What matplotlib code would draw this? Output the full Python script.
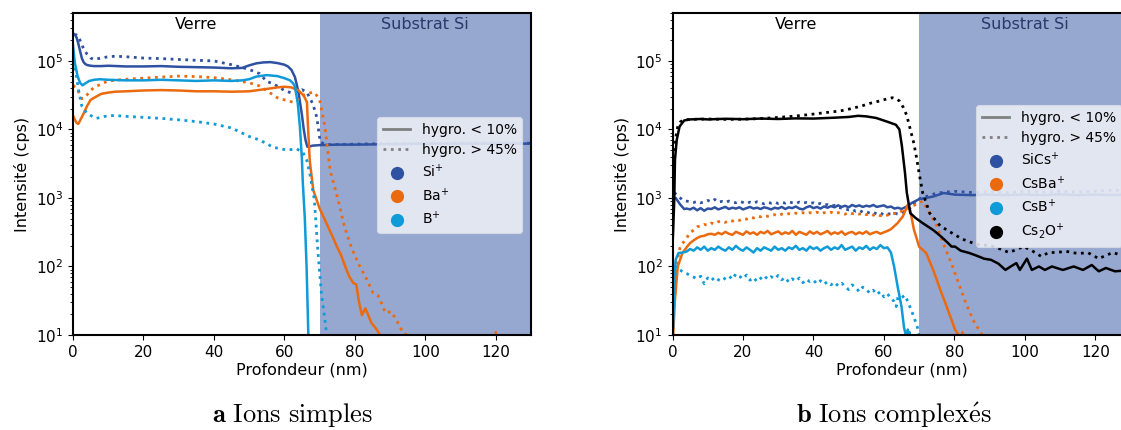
import matplotlib
matplotlib.use('Agg')
import matplotlib.pyplot as plt
from matplotlib.lines import Line2D

plt.rcParams.update({
    'font.family': 'DejaVu Sans',
    'font.size': 11,
    'axes.labelsize': 11.5,
    'xtick.labelsize': 11,
    'ytick.labelsize': 11,
    'legend.fontsize': 10,
    'axes.linewidth': 1.5,
})

# ---- colours ----
c_si = '#2F51A2'
c_ba = '#EC6A0E'
c_b = '#0F9AD8'
c_cs2o = '#000000'
c_sub = '#97A8D0'

# ---- panel a : ions simples ----
si_lo_x = [0, 0.5, 1, 1.5, 2, 2.5, 3, 3.5, 4, 5, 6, 8, 10, 15, 20, 25, 30, 35, 40, 45, 48, 50, 52, 54, 56, 58, 60,
           61, 62, 63, 64, 65, 65.5, 66, 66.5, 67, 68, 70, 75, 80, 90, 100, 110, 120, 130]
si_lo_y = [2.5e5, 2.45e5, 2.2e5, 1.8e5, 1.4e5, 1.1e5, 9.6e4, 9.0e4, 8.7e4, 8.5e4, 8.4e4, 8.4e4, 8.5e4, 8.3e4, 8.3e4,
           8.4e4, 8.2e4, 8.1e4, 8.0e4, 7.8e4, 7.9e4, 8.6e4, 9.2e4, 9.5e4, 9.6e4, 9.3e4, 8.8e4, 8.3e4, 7.4e4, 5.8e4,
           3.5e4, 1.6e4, 1.0e4, 7.0e3, 5.6e3, 5.6e3, 5.8e3, 5.9e3, 6.0e3, 6.0e3, 6.1e3, 6.2e3, 6.2e3, 6.2e3, 6.2e3]
si_hi_x = [0.5, 1, 1.5, 2, 3, 4, 5, 6, 8, 10, 12, 15, 20, 25, 30, 35, 40, 45, 48, 50, 53, 55, 57, 60, 62, 64, 65,
           66.4, 67, 68, 68.5, 69.2, 69.8, 70.2, 72, 80, 90, 100, 110, 120, 130]
si_hi_y = [2.3e5, 2.4e5, 2.3e5, 2.0e5, 1.5e5, 1.25e5, 1.1e5, 1.05e5, 1.1e5, 1.15e5, 1.17e5, 1.15e5, 1.1e5, 1.08e5,
           1.05e5, 1.02e5, 1.0e5, 8.8e4, 8.0e4, 7.5e4, 6.5e4, 5.0e4, 4.6e4, 3.7e4, 3.4e4, 3.6e4, 3.8e4, 3.5e4,
           3.0e4, 2.4e4, 2.0e4, 1.5e4, 9e3, 6.5e3, 6.0e3, 6.1e3, 6.2e3, 6.2e3, 6.3e3, 6.3e3, 6.3e3]

ba_lo_x = [0, 0.5, 1, 1.5, 2, 3, 4, 5, 6, 8, 10, 12, 15, 20, 25, 30, 35, 40, 45, 50, 55, 58, 60, 62, 64, 65, 65.5,
           66.4, 66.7, 67.2, 68.2, 70, 72, 74, 75, 76, 77.6, 78.5, 79.6, 80.4, 81.2, 82, 83, 84.7, 86.2, 87.2, 88,
           100, 119.6, 120, 120.4, 130]
ba_lo_y = [1.6e4, 1.4e4, 1.25e4, 1.2e4, 1.35e4, 1.7e4, 2.2e4, 2.7e4, 2.9e4, 3.3e4, 3.45e4, 3.55e4, 3.6e4, 3.7e4,
           3.75e4, 3.7e4, 3.6e4, 3.6e4, 3.55e4, 3.6e4, 3.9e4, 4.1e4, 4.2e4, 4.1e4, 3.7e4, 3.3e4, 3.1e4, 2.5e4,
           1.1e4, 3.5e3, 1.3e3, 7e2, 4.2e2, 2.5e2, 1.9e2, 1.5e2, 9e1, 7e1, 5.7e1, 5.5e1, 3e1, 1.95e1, 2.45e1,
           1.5e1, 1.2e1, 1e1, 8, 5, 5, 11, 5, 5]
ba_hi_x = [0, 1, 2, 2.5, 3, 4, 5, 6, 8, 10, 15, 20, 25, 30, 35, 40, 45, 50, 53, 56, 58, 60, 62.4, 64, 65, 66.4, 68,
           68.7, 70, 70.5, 71.5, 72.4, 73, 75, 77, 79, 81, 83, 85.2, 86.7, 88.7, 90.3, 91.8, 93.8, 95, 96]
ba_hi_y = [4.4e4, 4.0e4, 3.2e4, 2.8e4, 2.9e4, 3.2e4, 3.7e4, 4.1e4, 4.6e4, 5.1e4, 5.4e4, 5.6e4, 5.8e4, 6.0e4, 5.9e4,
           5.7e4, 5.3e4, 4.8e4, 4.3e4, 3.4e4, 2.9e4, 2.7e4, 2.5e4, 2.8e4, 3.1e4, 3.3e4, 3.5e4, 3.4e4, 2.7e4,
           2.0e4, 1.1e4, 4.5e3, 2.5e3, 1.05e3, 3.9e2, 1.9e2, 1.1e2, 7.1e1, 4.1e1, 3.7e1, 2.1e1, 2.2e1, 1.65e1,
           1.05e1, 1e1, 8]

b_lo_x = [0, 0.5, 1.3, 2, 2.7, 3.5, 4.6, 6, 7.6, 10, 15, 20, 25, 30, 35, 40, 45, 48, 50, 52, 55, 58, 60, 61.6, 62.5,
          63, 63.8, 64.4, 65, 65.2, 65.8, 66.3, 66.8, 67.2]
b_lo_y = [1.7e5, 9.5e4, 6.0e4, 4.8e4, 4.4e4, 4.7e4, 5.1e4, 5.3e4, 5.4e4, 5.3e4, 5.2e4, 5.2e4, 5.3e4, 5.2e4, 5.1e4,
          5.2e4, 5.1e4, 5.2e4, 5.4e4, 5.9e4, 6.2e4, 6.0e4, 5.6e4, 5.2e4, 4.7e4, 4.2e4, 2.4e4, 1.1e4, 3.5e3, 1.8e3,
          5e2, 1e2, 1e1, 5]
b_hi_x = [0, 0.7, 1.5, 2.5, 4, 6.6, 9, 11.7, 15, 20, 25, 30, 35, 40, 45, 50, 53, 56.8, 60.7, 63.5, 65.3, 66.4, 67.2,
          68.5, 69.5, 70.5, 71.5, 72, 72.5]
b_hi_y = [1.3e5, 7.6e4, 3.9e4, 2.2e4, 1.7e4, 1.45e4, 1.55e4, 1.6e4, 1.55e4, 1.5e4, 1.45e4, 1.38e4, 1.3e4, 1.2e4,
          1.05e4, 7.9e3, 7.0e3, 5.5e3, 5.0e3, 5.2e3, 4.6e3, 3.5e3, 2.3e3, 9.5e2, 1.7e2, 4.1e1, 1.66e1, 1e1, 7]

# ---- panel b : ions complexes ----
plateau_x = [4, 5, 6, 7, 8, 9, 10, 11, 12, 13, 14, 15, 16, 17, 18, 19, 20, 21, 22, 23, 24, 25, 26, 27, 28, 29, 30,
             31, 32, 33, 34, 35, 36, 37, 38, 39, 40, 41, 42, 43, 44, 45, 46, 47, 48, 49, 50, 51, 52, 53, 54, 55, 56,
             57, 58, 59, 60, 61, 62]

cs2o_lo_x = [0, 0.2, 0.5, 0.7, 1.2, 2, 3.3, 5, 8, 10, 15, 20, 25, 30, 35, 40, 45.6, 50, 52.7, 55, 57.8, 60.9, 63.4,
             64.4, 65.1, 66, 66.5, 67.5, 69, 71, 74, 76, 78.2, 79.2, 80.2, 81.8, 84.3, 86.9, 88.4, 90.4, 92.5, 94.5,
             96, 97.6, 98.6, 100.6, 102, 104, 105.7, 107.7, 110.8, 113.9, 116.5, 119, 121, 123, 125.6, 128, 130]
cs2o_lo_y = [2e2, 3.5e2, 9.5e2, 3.6e3, 7e3, 1.1e4, 1.35e4, 1.4e4, 1.42e4, 1.4e4, 1.43e4, 1.41e4, 1.44e4, 1.42e4,
             1.45e4, 1.44e4, 1.48e4, 1.52e4, 1.58e4, 1.55e4, 1.47e4, 1.3e4, 1.17e4, 1.0e4, 5.8e3, 2.3e3, 1.2e3, 6e2,
             5.1e2, 4.3e2, 3.4e2, 2.8e2, 2.2e2, 1.95e2, 1.95e2, 1.7e2, 1.57e2, 1.4e2, 1.3e2, 1.25e2, 1.1e2, 8.9e1,
             1.0e2, 1.12e2, 8.9e1, 1.3e2, 8.9e1, 1.0e2, 8.9e1, 1.0e2, 8.9e1, 1.0e2, 8.9e1, 1.05e2, 8.5e1, 9.5e1,
             8.5e1, 8.7e1, 9e1]
cs2o_hi_x = [0, 0.3, 0.6, 1, 1.5, 2.3, 3.5, 5, 10, 15, 20, 25, 30.3, 35, 39.4, 43, 47.6, 50.5, 53.7, 56, 58.8, 61,
             62.4, 63.5, 64.4, 65.5, 66.5, 67.5, 68.5, 69.3, 70, 71, 73, 76, 79.2, 82.3, 86.3, 90.4, 93, 95.5, 97.5,
             99.6, 101.6, 104.7, 106.8, 108.8, 111.8, 114.9, 118, 121, 123, 125, 126.6]
cs2o_hi_y = [1.1e3, 2.5e3, 5e3, 8e3, 1.1e4, 1.3e4, 1.38e4, 1.4e4, 1.42e4, 1.4e4, 1.41e4, 1.44e4, 1.5e4, 1.57e4,
             1.66e4, 1.75e4, 1.86e4, 2.0e4, 2.2e4, 2.4e4, 2.6e4, 2.8e4, 2.9e4, 2.8e4, 2.6e4, 2.1e4, 1.6e4, 1.0e4,
             6.3e3, 3.8e3, 2.3e3, 1.2e3, 6e2, 3.9e2, 3.1e2, 2.5e2, 2.1e2, 2.0e2, 1.8e2, 1.6e2, 1.75e2, 1.95e2,
             1.75e2, 1.4e2, 1.6e2, 1.6e2, 1.66e2, 1.55e2, 1.58e2, 1.3e2, 1.45e2, 1.6e2, 1.5e2]

sics_lo_x = [0.2, 0.9, 2.2, 3.3] + plateau_x + [63, 64, 65, 66.5, 68, 70, 72, 74, 77, 80, 85, 90, 95, 100, 105,
                                                 110, 115, 120, 125, 130]
sics_lo_y = [9.6e2, 1.0e3, 8.0e2, 6.9e2,
             7.0e2, 6.8e2, 7.2e2, 6.6e2, 7.1e2, 6.5e2, 7.0e2, 6.9e2, 7.3e2, 6.8e2, 7.1e2, 7.4e2, 6.9e2, 7.2e2,
             7.0e2, 7.3e2, 6.8e2, 7.1e2, 7.4e2, 7.0e2, 7.2e2, 6.9e2, 7.3e2, 7.1e2, 6.8e2, 7.2e2, 7.0e2, 7.4e2,
             6.9e2, 7.3e2, 7.1e2, 7.5e2, 7.0e2, 6.8e2, 7.3e2, 7.6e2, 7.1e2, 7.4e2, 7.0e2, 7.5e2, 7.2e2, 7.6e2,
             7.3e2, 7.8e2, 7.4e2, 7.7e2, 7.3e2, 7.9e2, 7.5e2, 7.8e2, 7.4e2, 7.7e2, 7.5e2, 7.9e2, 7.4e2, 7.6e2,
             7.8e2, 7.3e2, 7.5e2,
             7.0e2, 7.2e2, 6.9e2, 7.5e2, 8.5e2, 9.6e2, 1.0e3, 1.05e3, 1.18e3, 1.12e3, 1.1e3, 1.12e3, 1.1e3,
             1.12e3, 1.1e3, 1.13e3, 1.1e3, 1.12e3, 1.1e3, 1.12e3]
sics_hi_x = [0.5, 1.7, 3] + plateau_x + [63, 64, 65, 66, 67.5, 69.5, 72, 75, 80, 85, 90, 95, 100, 105, 110, 115,
                                          120, 125, 130]
sics_hi_y = [1.2e3, 1.05e3, 9.2e2,
             9.0e2, 8.8e2, 8.6e2, 8.9e2, 8.5e2, 8.7e2, 9.2e2, 8.8e2, 9.5e2, 8.7e2, 8.9e2, 8.6e2, 9.0e2, 8.7e2,
             8.5e2, 8.9e2, 8.6e2, 8.3e2, 8.7e2, 8.4e2, 8.8e2, 8.5e2, 8.2e2, 8.6e2, 8.4e2, 8.7e2, 8.3e2, 8.6e2,
             8.4e2, 8.8e2, 8.5e2, 8.3e2, 8.7e2, 8.4e2, 8.6e2, 8.3e2, 8.5e2, 8.1e2, 8.3e2, 7.9e2, 8.0e2, 7.6e2,
             7.8e2, 7.3e2, 7.1e2, 6.9e2, 6.7e2, 6.8e2, 6.4e2, 6.6e2, 6.2e2, 6.3e2, 6.0e2, 6.2e2, 5.8e2, 6.0e2,
             5.7e2, 5.9e2, 5.8e2,
             6.0e2, 5.8e2, 6.1e2, 6.4e2, 7.1e2, 9.5e2, 1.05e3, 1.18e3, 1.25e3, 1.2e3, 1.24e3, 1.2e3, 1.25e3,
             1.22e3, 1.25e3, 1.22e3, 1.26e3, 1.3e3, 1.27e3]

csba_lo_x = [0.2, 0.7, 1.5, 2.8] + plateau_x + [63.9, 65.4, 66.8, 67.5, 68.5, 70, 72, 74, 76, 78.2, 80.2, 81.2,
                                                 81.8, 82.3, 82.8]
csba_lo_y = [10, 33, 1e2, 1.57e2,
             1.9e2, 2.2e2, 2.4e2, 2.6e2, 2.75e2, 2.8e2, 2.95e2, 3.0e2, 2.9e2, 3.1e2, 2.95e2, 3.2e2, 3.0e2, 2.9e2,
             3.2e2, 3.05e2, 2.9e2, 3.25e2, 3.0e2, 3.15e2, 2.9e2, 3.2e2, 3.05e2, 3.3e2, 2.95e2, 3.1e2, 3.25e2,
             2.95e2, 3.15e2, 3.0e2, 3.3e2, 2.9e2, 3.2e2, 3.05e2, 2.9e2, 3.25e2, 3.0e2, 3.2e2, 2.95e2, 3.1e2,
             3.3e2, 2.95e2, 3.15e2, 3.0e2, 3.25e2, 2.9e2, 3.1e2, 3.2e2, 2.95e2, 3.15e2, 3.0e2, 3.25e2, 2.95e2,
             3.1e2, 3.2e2, 3.0e2, 3.15e2, 3.3e2, 3.5e2,
             4.3e2, 5.4e2, 8e2, 6.5e2, 3.5e2, 1.95e2, 1.57e2, 8.9e1, 4.6e1, 2.3e1, 1.2e1, 1e1, 8, 11, 8]
csba_hi_x = [0.7, 1, 2.2] + plateau_x + [63.9, 66.5, 69, 71, 73, 75, 77.2, 79.2, 81.2, 83.3, 85.3, 87.4, 87.9,
                                          88.5]
csba_hi_y = [4e1, 1e2, 1.95e2,
             2.6e2, 3.1e2, 3.4e2, 3.8e2, 3.9e2, 4.1e2, 4.0e2, 4.3e2, 4.2e2, 4.5e2, 4.6e2, 4.4e2, 4.7e2, 4.6e2,
             4.8e2, 4.7e2, 5.0e2, 4.9e2, 5.2e2, 5.1e2, 5.4e2, 5.3e2, 5.5e2, 5.4e2, 5.6e2, 5.7e2, 5.5e2, 5.8e2,
             5.7e2, 5.9e2, 5.8e2, 6.0e2, 5.9e2, 6.1e2, 5.9e2, 6.1e2, 6.0e2, 6.2e2, 5.9e2, 6.1e2, 6.0e2, 6.2e2,
             5.9e2, 6.1e2, 6.0e2, 5.8e2, 6.1e2, 5.9e2, 6.0e2, 5.8e2, 6.0e2, 5.7e2, 5.9e2, 5.6e2, 5.8e2, 5.5e2,
             5.7e2, 5.6e2, 5.9e2,
             6.0e2, 7e2, 8e2, 9e2, 6e2, 3.9e2, 1.95e2, 1.1e2, 5.7e1, 2.9e1, 1.66e1, 1.1e1, 1e1, 7]

csb_lo_x = [0.2, 0.5, 0.9, 1.7, 3] + plateau_x + [62.9, 63.9, 65, 65.7, 66.2, 66.5, 66.8, 67.1, 67.3, 67.5]
csb_lo_y = [13, 57, 1.26e2, 1.57e2, 1.6e2,
            1.65e2, 1.8e2, 1.7e2, 1.9e2, 1.75e2, 1.95e2, 1.7e2, 1.85e2, 1.75e2, 1.95e2, 1.8e2, 1.7e2, 1.9e2,
            1.75e2, 2.0e2, 1.8e2, 1.7e2, 1.9e2, 1.75e2, 1.6e2, 1.85e2, 1.7e2, 1.9e2, 1.8e2, 1.7e2, 1.95e2,
            1.75e2, 1.85e2, 1.7e2, 1.9e2, 1.8e2, 2.0e2, 1.75e2, 1.85e2, 1.7e2, 1.95e2, 1.8e2, 1.9e2, 1.7e2,
            1.85e2, 1.95e2, 1.75e2, 1.9e2, 1.8e2, 2.05e2, 1.75e2, 1.85e2, 1.95e2, 1.7e2, 1.9e2, 1.8e2, 2.0e2,
            1.75e2, 1.9e2, 1.8e2, 2.05e2, 1.85e2, 1.9e2, 1.6e2,
            1.0e2, 5.1e1, 2.6e1, 1.3e1, 1e1, 7, 12, 7, 11, 5]
csb_hi_x = [0.5, 0.9, 2.2, 3] + plateau_x + [62.9, 63.5, 64, 65, 66, 67, 68.5, 69.5, 70, 70.5]
csb_hi_y = [4.5e1, 1e2, 8.9e1, 8.2e1,
            7.9e1, 7.4e1, 7.0e1, 6.6e1, 7.2e1, 5.6e1, 6.8e1, 6.2e1, 7.0e1, 6.4e1, 6.1e1, 6.8e1, 7.3e1, 6.5e1,
            7.8e1, 7.2e1, 6.6e1, 7.5e1, 6.3e1, 6.9e1, 6.0e1, 6.7e1, 7.4e1, 6.5e1, 7.1e1, 6.6e1, 7.4e1, 6.4e1,
            6.9e1, 5.9e1, 6.6e1, 6.1e1, 6.8e1, 5.8e1, 6.5e1, 6.0e1, 6.3e1, 5.6e1, 6.2e1, 5.5e1, 6.0e1, 5.4e1,
            5.9e1, 5.2e1, 5.7e1, 5.1e1, 4.6e1, 5.4e1, 4.9e1, 4.3e1, 5.0e1, 4.6e1, 4.1e1, 4.5e1, 3.9e1, 4.3e1,
            3.6e1, 4.0e1, 3.4e1,
            3.1e1, 2.6e1, 3.6e1, 3.5e1, 3.8e1, 2.9e1, 1.85e1, 1.3e1, 1e1, 7]

panel_a = [
    ('Si$^{+}$', c_si, (si_lo_x, si_lo_y), (si_hi_x, si_hi_y)),
    ('Ba$^{+}$', c_ba, (ba_lo_x, ba_lo_y), (ba_hi_x, ba_hi_y)),
    ('B$^{+}$', c_b, (b_lo_x, b_lo_y), (b_hi_x, b_hi_y)),
]
panel_b = [
    ('SiCs$^{+}$', c_si, (sics_lo_x, sics_lo_y), (sics_hi_x, sics_hi_y)),
    ('CsBa$^{+}$', c_ba, (csba_lo_x, csba_lo_y), (csba_hi_x, csba_hi_y)),
    ('CsB$^{+}$', c_b, (csb_lo_x, csb_lo_y), (csb_hi_x, csb_hi_y)),
    ('Cs$_2$O$^{+}$', c_cs2o, (cs2o_lo_x, cs2o_lo_y), (cs2o_hi_x, cs2o_hi_y)),
]


def draw_panel(ax, series, legend_anchor):
    ax.axvspan(70, 130, color=c_sub, lw=0, zorder=0)
    for name, col, lo, hi in series:
        ax.plot(lo[0], lo[1], color=col, lw=1.8, zorder=2)
        ax.plot(hi[0], hi[1], color=col, lw=2.0, ls=':', zorder=2)
    ax.set_yscale('log')
    ax.set_xlim(0, 130)
    ax.set_ylim(10, 5e5)
    ax.set_xticks([0, 20, 40, 60, 80, 100, 120])
    ax.set_xlabel('Profondeur (nm)', labelpad=2)
    ax.set_ylabel('Intensité (cps)')
    ax.text(35, 0.963, 'Verre', transform=ax.get_xaxis_transform(), ha='center', va='center', fontsize=11.5)
    ax.text(100, 0.963, 'Substrat Si', transform=ax.get_xaxis_transform(), ha='center', va='center',
            fontsize=11.5, color='#28396A')

    handles = [Line2D([], [], color='#808080', lw=2, label='hygro. < 10%'),
               Line2D([], [], color='#808080', lw=2, ls=':', label='hygro. > 45%')]
    for name, col, lo, hi in series:
        handles.append(Line2D([], [], color=col, marker='o', ls='', ms=8.5, label=name))
    leg = ax.legend(handles=handles, loc='upper left', bbox_to_anchor=legend_anchor, borderaxespad=0,
                    frameon=True, framealpha=0.85, facecolor='#F0F2F8', edgecolor='#D8DCE6',
                    handlelength=2.0, labelspacing=0.45, borderpad=0.4, handletextpad=0.8)
    leg.get_frame().set_linewidth(0.8)
    leg.set_zorder(5)


fig = plt.figure(figsize=(11.21, 4.30), dpi=100)
ax1 = fig.add_axes([73 / 1121, 95 / 430, 458 / 1121, 322 / 430])
ax2 = fig.add_axes([672.5 / 1121, 95 / 430, 458 / 1121, 322 / 430])

draw_panel(ax1, panel_a, (0.664, 0.677))
draw_panel(ax2, panel_b, (0.663, 0.714))

fig.text(0.261, 0.035, r'$\mathbf{a}\ \mathrm{Ions\ simples}$', ha='center', va='center',
         fontsize=19, math_fontfamily='cm')
fig.text(0.797, 0.035, r'$\mathbf{b}\ \mathrm{Ions\ complex\acute{e}s}$', ha='center', va='center',
         fontsize=19, math_fontfamily='cm')

fig.savefig('out.png', dpi=100)
